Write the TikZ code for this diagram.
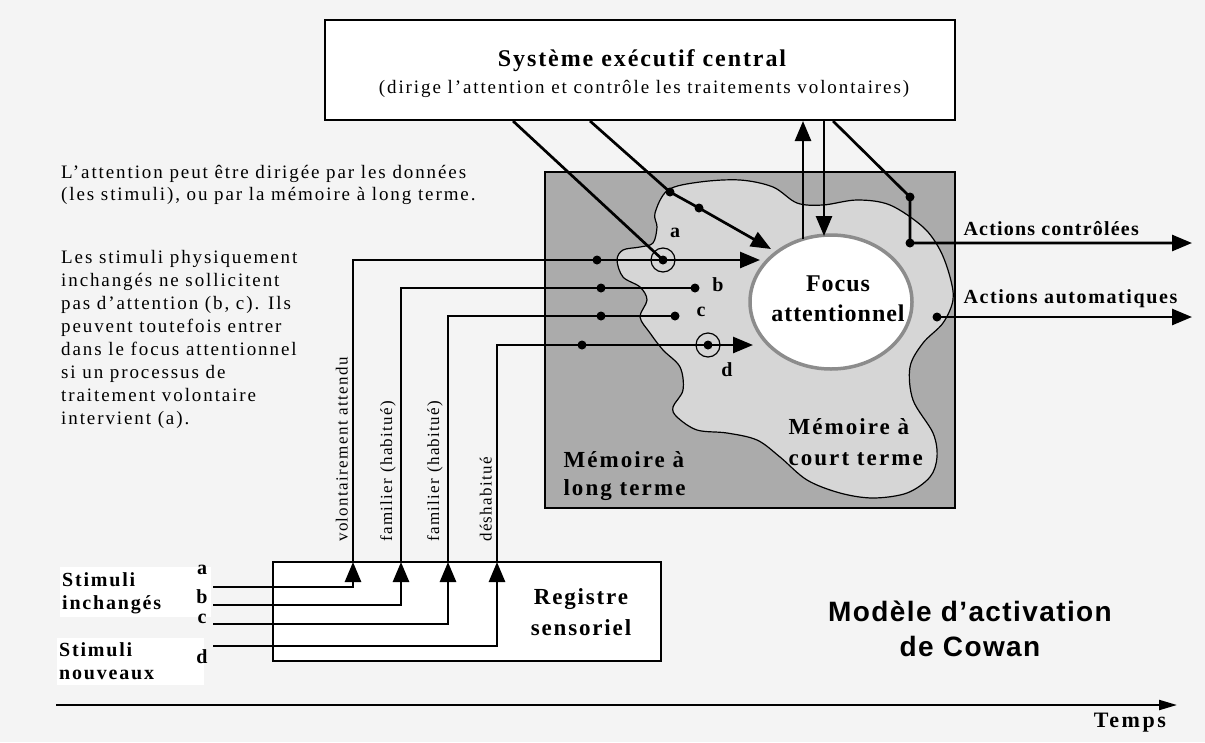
\documentclass[tikz,border=0pt]{standalone}
\usepackage{fontspec}
\setmainfont{Liberation Serif}
\newfontfamily\titrefont{Liberation Sans}
\usepackage{xcolor}
\usepackage{tikz}
\usetikzlibrary{arrows.meta,positioning,shapes.geometric}

\definecolor{fond}{HTML}{F4F4F4}
\definecolor{longterme}{HTML}{ABABAB}
\definecolor{courtterme}{HTML}{D6D6D6}
\definecolor{bordfocus}{HTML}{8C8C8C}

\newcommand{\espace}[1]{\addfontfeatures{LetterSpace=#1}}

\tikzset{
  trait/.style={line width=2.7pt},
  fleche/.style={line width=2.7pt,-{Triangle[length=20pt,width=16pt]}},
  point/.style={circle,fill=black,inner sep=0pt,minimum size=9pt},
  lettre/.style={font=\fontsize{20}{20}\selectfont\bfseries,inner sep=0pt},
  vertlabel/.style={rotate=90,anchor=south west,inner sep=1pt,font=\fontsize{17}{17}\selectfont\espace{8}},
  boite/.style={draw,line width=2.7pt,fill=white,inner sep=0pt},
}

\begin{document}
\begin{tikzpicture}[x=1pt,y=-1pt]
        % background and frame
        \fill[fond] (0,0) rectangle (1205,742);
        \useasboundingbox (0,0) rectangle (1205,742);

        % long term memory and short term memory
        \draw[trait,fill=longterme] (545,172) rectangle (955,508); % LTM box
        \draw[line width=1.2pt,fill=courtterme] plot[smooth cycle,tension=0.55] coordinates {
          (668,190) (700,182) (740,180) (773,187) (797,203) (823,205) (857,200)
          (890,205) (923,227) (940,250) (950,277) (953,300) (943,323) (923,343)
          (910,367) (913,400) (933,433) (937,457) (930,477) (907,493) (873,498)
          (840,493) (807,480) (780,457) (757,440) (727,433) (697,430) (677,417)
          (673,407) (683,390) (680,367) (663,350) (650,333) (640,317) (647,300)
          (640,287) (623,277) (617,260) (623,250) (640,247) (653,243) (657,227)
          (655,213)};

        % boxes
        \node[boite,minimum width=630pt,minimum height=100pt] (exec) at (640,70) {};
        \node[font=\fontsize{24}{24}\selectfont\bfseries\espace{8}] (execTitre) at (642,61) {Système exécutif central};
        \node[font=\fontsize{19}{19}\selectfont\espace{10}] (execSous) at (644,89) {(dirige l’attention et contrôle les traitements volontaires)};
        \node[boite,minimum width=388pt,minimum height=99pt] (registre) at (467,611.5) {};
        \node[align=center,font=\fontsize{23}{31}\selectfont\bfseries\espace{8}] (registreTxt) at (581,612) {Registre\\sensoriel};
        \node[ellipse,draw=bordfocus,line width=3.5pt,fill=white,minimum width=162pt,minimum height=134pt,inner sep=0pt] (focus) at (831,302) {};
        \node[align=center,font=\fontsize{24}{30}\selectfont\bfseries\espace{4}] (focusTxt) at (838,299) {Focus\\attentionnel};

        % coordinates of the four stimuli
        \coordinate (inA) at (213,587);  \coordinate (topA) at (353,562);  \coordinate (finA) at (760,260);
        \coordinate (inB) at (213,605);  \coordinate (topB) at (401,562);
        \coordinate (inC) at (213,624);  \coordinate (topC) at (448,562);
        \coordinate (inD) at (213,646);  \coordinate (topD) at (497,562);  \coordinate (finD) at (753,345);

        % dots
        \node[point] (ltmA) at (597,260) {};
        \node[point] (ltmB) at (601,288) {};
        \node[point] (ltmC) at (601,316) {};
        \node[point] (ltmD) at (582,345) {};
        \node[point] (dotA) at (663,260) {};
        \node[point] (dotB) at (695,288) {};
        \node[point] (dotC) at (675,316) {};
        \node[point] (dotD) at (708,345) {};
        \node[point] (exDot1) at (670,192) {};
        \node[point] (exDot2) at (699,208) {};
        \node[point] (ctlDot1) at (910,197) {};
        \node[point] (ctlDot2) at (910,243) {};
        \node[point] (autoDot) at (937,317) {};

        % stimuli boxes
        \fill[white] (60,567) rectangle (211,617);
        \fill[white] (57,638) rectangle (204,685);
        \node[anchor=north west,align=left,inner sep=0pt,font=\fontsize{20}{23}\selectfont\bfseries\espace{9}] (stimInch) at (62,572) {Stimuli\\inchangés};
        \node[anchor=north west,align=left,inner sep=0pt,font=\fontsize{20}{23}\selectfont\bfseries\espace{9}] (stimNouv) at (59,642) {Stimuli\\nouveaux};

        % stimuli lines
        \draw[fleche] (inA) -| (topA);
        \draw[fleche] (inB) -| (topB);
        \draw[fleche] (inC) -| (topC);
        \draw[fleche] (inD) -| (topD);
        \draw[fleche] (topA) |- (finA);
        \draw[trait] (topB) |- (dotB.center);
        \draw[trait] (topC) |- (dotC.center);
        \draw[fleche] (topD) |- (finD);
        \draw[line width=1.2pt] (dotA) circle (12pt);
        \draw[line width=1.2pt] (dotD) circle (12pt);

        % central executive lines
        \coordinate (exA) at (513,121);
        \coordinate (exB) at (590,121);
        \coordinate (exC) at (833,121);
        \coordinate (finEx) at (771,249);
        \coordinate (hautUp) at (803,121);
        \coordinate (basUp) at (803,239);
        \coordinate (hautDown) at (824,121);
        \coordinate (basDown) at (824,236);
        \coordinate (finCtl) at (1192,243);
        \coordinate (finAuto) at (1192,317);
        \draw[trait] (exA) -- (dotA.center);
        \draw[fleche] (exB) -- (exDot1.center) -- (exDot2.center) -- (finEx);
        \draw[fleche] (basUp) -- (hautUp);
        \draw[fleche] (hautDown) -- (basDown);
        \draw[fleche] (exC) -- (ctlDot1.center) -- (ctlDot2.center) -- (finCtl);
        \draw[fleche] (autoDot.center) -- (finAuto);

        % letters
        \node[lettre] (lA) at (675,233) {a};
        \node[lettre] (lB) at (718,285) {b};
        \node[lettre] (lC) at (701,312) {c};
        \node[lettre] (lD) at (727,370) {d};
        \node[lettre] (sA) at (202,570) {a};
        \node[lettre] (sB) at (202,597) {b};
        \node[lettre] (sC) at (202,619) {c};
        \node[lettre] (sD) at (202,657) {d};

        % memory labels
        \node[anchor=west,align=left,font=\fontsize{23}{31}\selectfont\bfseries\espace{9}] (mct) at (785,442) {Mémoire à\\court terme};
        \node[anchor=west,align=left,font=\fontsize{23}{28}\selectfont\bfseries\espace{9}] (mlt) at (560,476) {Mémoire à\\long terme};

        % vertical labels
        \node[vertlabel] (vA) at (349,543) {volontairement attendu};
        \node[vertlabel] (vB) at (397,543) {familier (habitué)};
        \node[vertlabel] (vC) at (444,543) {familier (habitué)};
        \node[vertlabel] (vD) at (493,543) {déshabitué};

        % actions
        \node[anchor=west,font=\fontsize{20}{20}\selectfont\bfseries\espace{6}] (actCtl) at (960,229) {Actions contrôlées};
        \node[anchor=west,font=\fontsize{20}{20}\selectfont\bfseries\espace{8}] (actAuto) at (960,299) {Actions automatiques};

        % left texts
        \node[anchor=north west,align=left,inner sep=0pt,font=\fontsize{19}{22}\selectfont\espace{10}] (txtAttention) at (61,165)
          {L’attention peut être dirigée par les données\\(les stimuli), ou par la mémoire à long terme.};
        \node[anchor=north west,align=left,inner sep=0pt,font=\fontsize{19}{23}\selectfont\espace{10}] (txtStimuli) at (61,250)
          {Les stimuli physiquement\\inchangés ne sollicitent\\pas d’attention (b, c). Ils\\peuvent toutefois entrer\\dans le focus attentionnel\\si un processus de\\traitement volontaire\\intervient (a).};

        % title and time axis
        \node[align=center,font=\fontsize{28}{35}\selectfont\titrefont\bfseries\espace{5}] (titre) at (970,629) {Modèle d’activation\\de Cowan};
        \coordinate (t0) at (56,705);
        \coordinate (t1) at (1177,705);
        \draw[line width=2.2pt,-{Triangle[length=18pt,width=10pt]}] (t0) -- (t1);
        \node[font=\fontsize{22}{22}\selectfont\bfseries\espace{12}] (temps) at (1130,723) {Temps};
\end{tikzpicture}
\end{document}
